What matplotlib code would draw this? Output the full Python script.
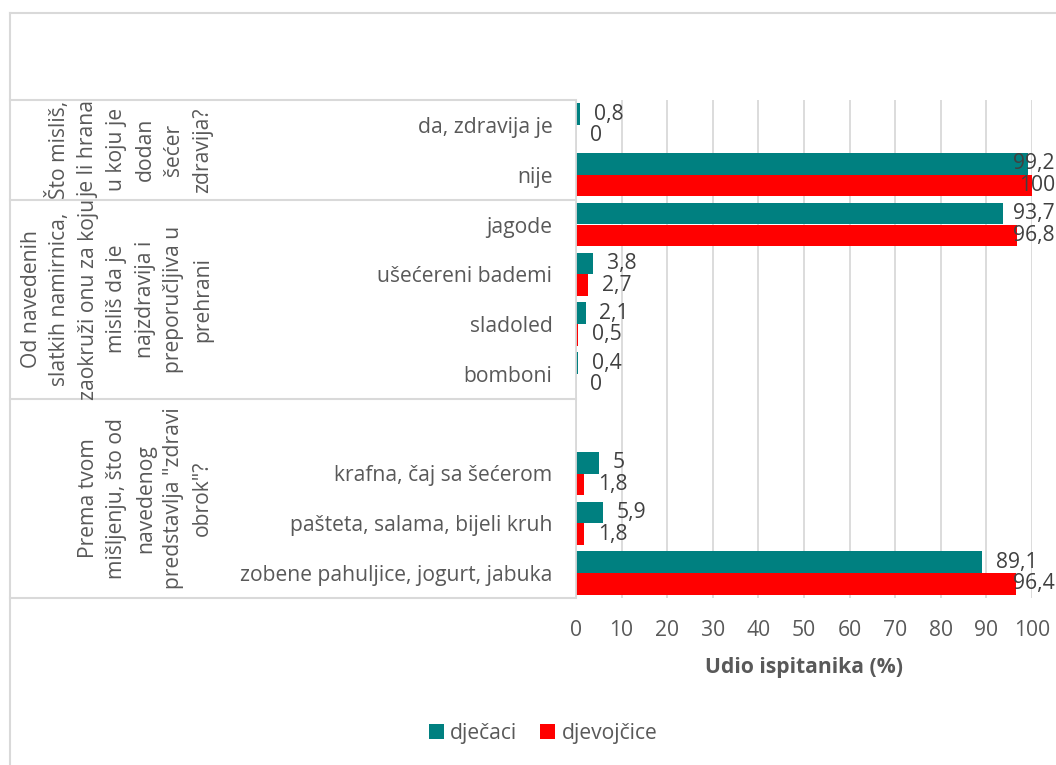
import matplotlib
matplotlib.use("Agg")
import matplotlib.pyplot as plt
import matplotlib.transforms as mtransforms
from matplotlib.lines import Line2D
from matplotlib.patches import Patch
import numpy as np

plt.rcParams["font.family"] = ["Open Sans", "DejaVu Sans"]

# Categories from top to bottom; '' is the empty slot in the last group
categories = [
    "da, zdravija je",
    "nije",
    "jagode",
    "ušećereni bademi",
    "sladoled",
    "bomboni",
    "",
    "krafna, čaj sa šećerom",
    "pašteta, salama, bijeli kruh",
    "zobene pahuljice, jogurt, jabuka",
]

djecaci = [0.8, 99.2, 93.7, 3.8, 2.1, 0.4, np.nan, 5, 5.9, 89.1]
djevojcice = [0, 100, 96.8, 2.7, 0.5, 0, np.nan, 1.8, 1.8, 96.4]

group_names = [
    "Što misliš,\nje li hrana\nu koju je\ndodan\nšećer\nzdravija?",
    "Od navedenih\nslatkih namirnica,\nzaokruži onu za koju\nmisliš da je\nnajzdravija i\npreporučljiva u\nprehrani",
    "Prema tvom\nmišljenju, što od\nnavedenog\npredstavlja \"zdravi\nobrok\"?",
]
group_sizes = [2, 4, 4]

x_ticks = list(range(0, 101, 10))
series_names = ["dječaci", "djevojčice"]
colors = ["#008080", "#FF0000"]

W, H = 1056, 765
fig = plt.figure(figsize=(W / 100, H / 100), dpi=100)
ax = fig.add_axes([576 / W, 1 - 598 / H, (1032 - 576) / W, 498 / H])

grey = "#595959"
line_grey = "#D9D9D9"
fs = 15.2

y = np.arange(len(categories))
bar_h = 0.436

ax.barh(y - bar_h / 2, djecaci, height=bar_h, color=colors[0], zorder=3)
ax.barh(y + bar_h / 2, djevojcice, height=bar_h, color=colors[1], zorder=3)

ax.set_xlim(0, 100)
ax.set_ylim(len(categories) - 0.5, -0.5)
ax.set_xticks(x_ticks)
ax.set_xticklabels([str(t) for t in x_ticks], fontsize=fs, color=grey)
ax.set_yticks(y)
ax.set_yticklabels(categories, fontsize=fs, color=grey)
ax.tick_params(axis="x", length=0, pad=16)
ax.tick_params(axis="y", length=0, pad=17)
ax.grid(axis="x", color=line_grey, linewidth=1.3, zorder=0)
for side in ["top", "right", "bottom"]:
    ax.spines[side].set_visible(False)
ax.spines["left"].set_color(line_grey)
ax.spines["left"].set_linewidth(1.3)
ax.spines["left"].set_zorder(4)

# Data labels, decimal comma
labels = []
for vals, offs in [(djecaci, -bar_h / 2), (djevojcice, bar_h / 2)]:
    for i, v in enumerate(vals):
        if np.isnan(v):
            continue
        txt = ("%g" % v).replace(".", ",")
        t = ax.annotate(txt, xy=(v, i + offs), xytext=(10, 0),
                        textcoords="offset points", ha="left", va="center",
                        fontsize=fs, color="#404040", annotation_clip=False,
                        zorder=5)
        labels.append(t)

# Keep labels near 100 inside the picture
fig.canvas.draw()
renderer = fig.canvas.get_renderer()
for t in labels:
    bb = t.get_window_extent(renderer)
    limit = 1055
    if bb.x1 > limit:
        shift = (bb.x1 - limit) * 72 / fig.dpi
        xo, yo = t.xyann
        t.xyann = (xo - shift, yo)

# Multi-level category lines and group labels
trans = mtransforms.blended_transform_factory(fig.transFigure, ax.transData)
bounds = np.concatenate([[0], np.cumsum(group_sizes)]) - 0.5
for b in bounds:
    fig.add_artist(Line2D([10 / W, 576 / W], [b, b], transform=trans,
                          color=line_grey, linewidth=1.5))
for name, lo, hi in zip(group_names, bounds[:-1], bounds[1:]):
    fig.text(213 / W, (lo + hi) / 2, name, transform=trans, rotation=90,
             ha="right", va="center", multialignment="center",
             fontsize=fs, color=grey, linespacing=1.47)

# Chart area border
fig.add_artist(Line2D([10 / W, 1], [1 - 13 / H, 1 - 13 / H],
                      transform=fig.transFigure, color=line_grey, linewidth=1.5))
fig.add_artist(Line2D([10 / W, 10 / W], [0, 1 - 13 / H],
                      transform=fig.transFigure, color=line_grey, linewidth=1.5))

fig.text(804 / W, 1 - 667 / H, "Udio ispitanika (%)", ha="center", va="center",
         fontsize=fs, fontweight="bold", color=grey)

handles = [Patch(facecolor=c, edgecolor="none") for c in colors]
fig.legend(handles, series_names, loc="center", bbox_to_anchor=(543 / W, 1 - 733 / H),
           ncol=2, frameon=False, fontsize=fs, labelcolor=grey,
           handlelength=0.7, handleheight=0.7, handletextpad=0.3,
           columnspacing=1.1)

fig.savefig("out.png", dpi=100)
